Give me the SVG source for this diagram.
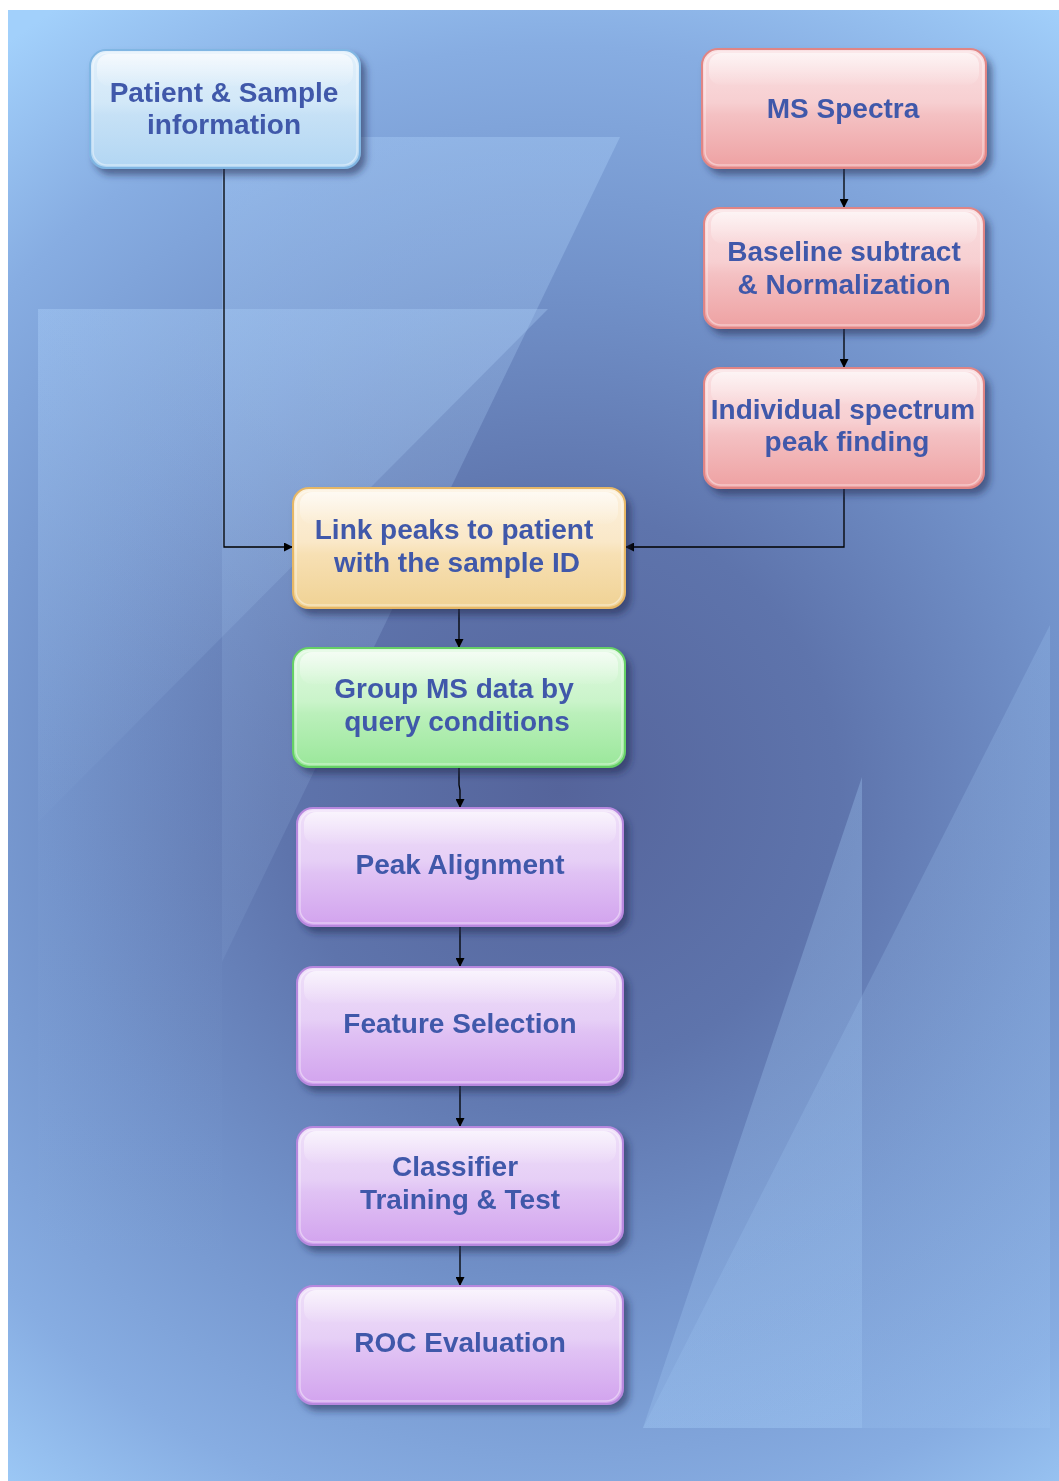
<svg xmlns="http://www.w3.org/2000/svg" width="1059" height="1481" viewBox="0 0 1059 1481">
<defs>
<radialGradient id="bg" gradientUnits="userSpaceOnUse" cx="560" cy="790" r="930">
<stop offset="0" stop-color="#55649b"/>
<stop offset="0.3" stop-color="#5e74ac"/>
<stop offset="0.55" stop-color="#7292ca"/>
<stop offset="0.8" stop-color="#87ade2"/>
<stop offset="1" stop-color="#a2d0fb"/>
</radialGradient>
<linearGradient id="fadeA" x1="0" y1="0" x2="0" y2="1">
<stop offset="0" stop-color="#b4d8ff" stop-opacity="0.32"/>
<stop offset="1" stop-color="#b4d8ff" stop-opacity="0.08"/>
</linearGradient>
<linearGradient id="fadeB" x1="0" y1="0" x2="0" y2="1">
<stop offset="0" stop-color="#b4d8ff" stop-opacity="0.3"/>
<stop offset="1" stop-color="#b4d8ff" stop-opacity="0.02"/>
</linearGradient>
<linearGradient id="fadeD" x1="0" y1="0" x2="0" y2="1">
<stop offset="0" stop-color="#a8d0fa" stop-opacity="0.3"/>
<stop offset="1" stop-color="#a8d0fa" stop-opacity="0.25"/>
</linearGradient>
<linearGradient id="gBlue" x1="0" y1="0" x2="0" y2="1">
<stop offset="0" stop-color="#e2f0fb"/><stop offset="0.45" stop-color="#d2e8f8"/><stop offset="0.55" stop-color="#c6e1f6"/><stop offset="1" stop-color="#b2d6f3"/>
</linearGradient>
<linearGradient id="gRed" x1="0" y1="0" x2="0" y2="1">
<stop offset="0" stop-color="#fae0e2"/><stop offset="0.45" stop-color="#f7cfd1"/><stop offset="0.55" stop-color="#f4c1c3"/><stop offset="1" stop-color="#eea1a2"/>
</linearGradient>
<linearGradient id="gOrange" x1="0" y1="0" x2="0" y2="1">
<stop offset="0" stop-color="#fcf1de"/><stop offset="0.45" stop-color="#fae8c8"/><stop offset="0.55" stop-color="#f7e0b4"/><stop offset="1" stop-color="#f0d294"/>
</linearGradient>
<linearGradient id="gGreen" x1="0" y1="0" x2="0" y2="1">
<stop offset="0" stop-color="#e0f9e0"/><stop offset="0.45" stop-color="#caf4ca"/><stop offset="0.55" stop-color="#bbf0bb"/><stop offset="1" stop-color="#9ae79a"/>
</linearGradient>
<linearGradient id="gPurple" x1="0" y1="0" x2="0" y2="1">
<stop offset="0" stop-color="#efdff9"/><stop offset="0.45" stop-color="#e6cff6"/><stop offset="0.55" stop-color="#e0c2f4"/><stop offset="1" stop-color="#d2a3ee"/>
</linearGradient>
<linearGradient id="gloss" x1="0" y1="0" x2="0" y2="1">
<stop offset="0" stop-color="#ffffff" stop-opacity="0.65"/>
<stop offset="1" stop-color="#ffffff" stop-opacity="0.05"/>
</linearGradient>
<filter id="shadow" x="-10%" y="-10%" width="125%" height="135%">
<feDropShadow dx="5" dy="6" stdDeviation="3.5" flood-color="#1a2550" flood-opacity="0.55"/>
</filter>
<marker id="arrow" viewBox="0 0 10 10" refX="10" refY="5" markerWidth="10" markerHeight="9" markerUnits="userSpaceOnUse" orient="auto">
<path d="M0,0 L10,5 L0,10 z" fill="#000"/>
</marker>
<style>
.lbl{font-family:"Liberation Sans",Arial,Helvetica,sans-serif;font-weight:bold;font-size:28px;fill:#4059aa;text-anchor:middle;}
.box{stroke-width:2;}
.blue{fill:url(#gBlue);stroke:#80b6e3;}
.red{fill:url(#gRed);stroke:#e08585;}
.orange{fill:url(#gOrange);stroke:#e6b766;}
.green{fill:url(#gGreen);stroke:#66d066;}
.purple{fill:url(#gPurple);stroke:#b788de;}
.hl{fill:url(#gloss);}
.rim{fill:none;stroke:#ffffff;stroke-opacity:0.4;stroke-width:1.5;}
.conn{fill:none;stroke:#000;stroke-width:1.3;marker-end:url(#arrow);}
</style>
</defs>

<rect x="0" y="0" width="1059" height="1481" fill="#ffffff"/>
<rect x="8" y="10" width="1051" height="1471" fill="url(#bg)"/>
<g id="background-shapes">
<polygon points="222,137 620,137 222,962" fill="url(#fadeA)"/>
<polygon points="38,309 548,309 38,822" fill="url(#fadeB)"/>
<rect x="38" y="309" width="184" height="940" fill="url(#fadeB)" opacity="0.25"/>
<polygon points="862,777 862,1428 643,1428" fill="url(#fadeD)"/>
<polygon points="1050,625 1050,1428 643,1428" fill="url(#fadeD)" opacity="0.7"/>
</g>

<g id="connectors">
<path class="conn" d="M844,168 V208"/>
<path class="conn" d="M844,328 V368"/>
<path class="conn" d="M224,168 V547 H293"/>
<path class="conn" d="M844,488 V547 H625"/>
<path class="conn" d="M459,608 V648"/>
<path class="conn" d="M459,767 V785 L460,790 V808"/>
<path class="conn" d="M460,926 V967"/>
<path class="conn" d="M460,1085 V1127"/>
<path class="conn" d="M460,1245 V1286"/>
</g>

<g id="node-patient" filter="url(#shadow)">
<rect class="box blue" x="90" y="50" width="270" height="118" rx="16"/>
<rect class="hl" x="97" y="54" width="256" height="32" rx="12"/>
<rect class="rim" x="93" y="53" width="264" height="112" rx="14"/>
<text class="lbl" x="224" y="102">Patient &amp; Sample</text>
<text class="lbl" x="224" y="134">information</text>
</g>

<g id="node-ms" filter="url(#shadow)">
<rect class="box red" x="702" y="49" width="284" height="119" rx="16"/>
<rect class="hl" x="709" y="53" width="270" height="32" rx="12"/>
<rect class="rim" x="705" y="52" width="278" height="113" rx="14"/>
<text class="lbl" x="843" y="118">MS Spectra</text>
</g>

<g id="node-baseline" filter="url(#shadow)">
<rect class="box red" x="704" y="208" width="280" height="120" rx="16"/>
<rect class="hl" x="711" y="212" width="266" height="32" rx="12"/>
<rect class="rim" x="707" y="211" width="274" height="114" rx="14"/>
<text class="lbl" x="844" y="261">Baseline subtract</text>
<text class="lbl" x="844" y="294">&amp; Normalization</text>
</g>

<g id="node-individual" filter="url(#shadow)">
<rect class="box red" x="704" y="368" width="280" height="120" rx="16"/>
<rect class="hl" x="711" y="372" width="266" height="32" rx="12"/>
<rect class="rim" x="707" y="371" width="274" height="114" rx="14"/>
<text class="lbl" x="843" y="419">Individual spectrum</text>
<text class="lbl" x="847" y="451">peak finding</text>
</g>

<g id="node-link" filter="url(#shadow)">
<rect class="box orange" x="293" y="488" width="332" height="120" rx="16"/>
<rect class="hl" x="300" y="492" width="318" height="32" rx="12"/>
<rect class="rim" x="296" y="491" width="326" height="114" rx="14"/>
<text class="lbl" x="454" y="539">Link peaks to patient</text>
<text class="lbl" x="457" y="572">with the sample ID</text>
</g>

<g id="node-group" filter="url(#shadow)">
<rect class="box green" x="293" y="648" width="332" height="119" rx="16"/>
<rect class="hl" x="300" y="652" width="318" height="32" rx="12"/>
<rect class="rim" x="296" y="651" width="326" height="113" rx="14"/>
<text class="lbl" x="454" y="698">Group MS data by</text>
<text class="lbl" x="457" y="731">query conditions</text>
</g>

<g id="node-peak" filter="url(#shadow)">
<rect class="box purple" x="297" y="808" width="326" height="118" rx="16"/>
<rect class="hl" x="304" y="812" width="312" height="32" rx="12"/>
<rect class="rim" x="300" y="811" width="320" height="112" rx="14"/>
<text class="lbl" x="460" y="874">Peak Alignment</text>
</g>

<g id="node-feature" filter="url(#shadow)">
<rect class="box purple" x="297" y="967" width="326" height="118" rx="16"/>
<rect class="hl" x="304" y="971" width="312" height="32" rx="12"/>
<rect class="rim" x="300" y="970" width="320" height="112" rx="14"/>
<text class="lbl" x="460" y="1033">Feature Selection</text>
</g>

<g id="node-classifier" filter="url(#shadow)">
<rect class="box purple" x="297" y="1127" width="326" height="118" rx="16"/>
<rect class="hl" x="304" y="1131" width="312" height="32" rx="12"/>
<rect class="rim" x="300" y="1130" width="320" height="112" rx="14"/>
<text class="lbl" x="455" y="1176">Classifier</text>
<text class="lbl" x="460" y="1209">Training &amp; Test</text>
</g>

<g id="node-roc" filter="url(#shadow)">
<rect class="box purple" x="297" y="1286" width="326" height="118" rx="16"/>
<rect class="hl" x="304" y="1290" width="312" height="32" rx="12"/>
<rect class="rim" x="300" y="1289" width="320" height="112" rx="14"/>
<text class="lbl" x="460" y="1352">ROC Evaluation</text>
</g>
</svg>
